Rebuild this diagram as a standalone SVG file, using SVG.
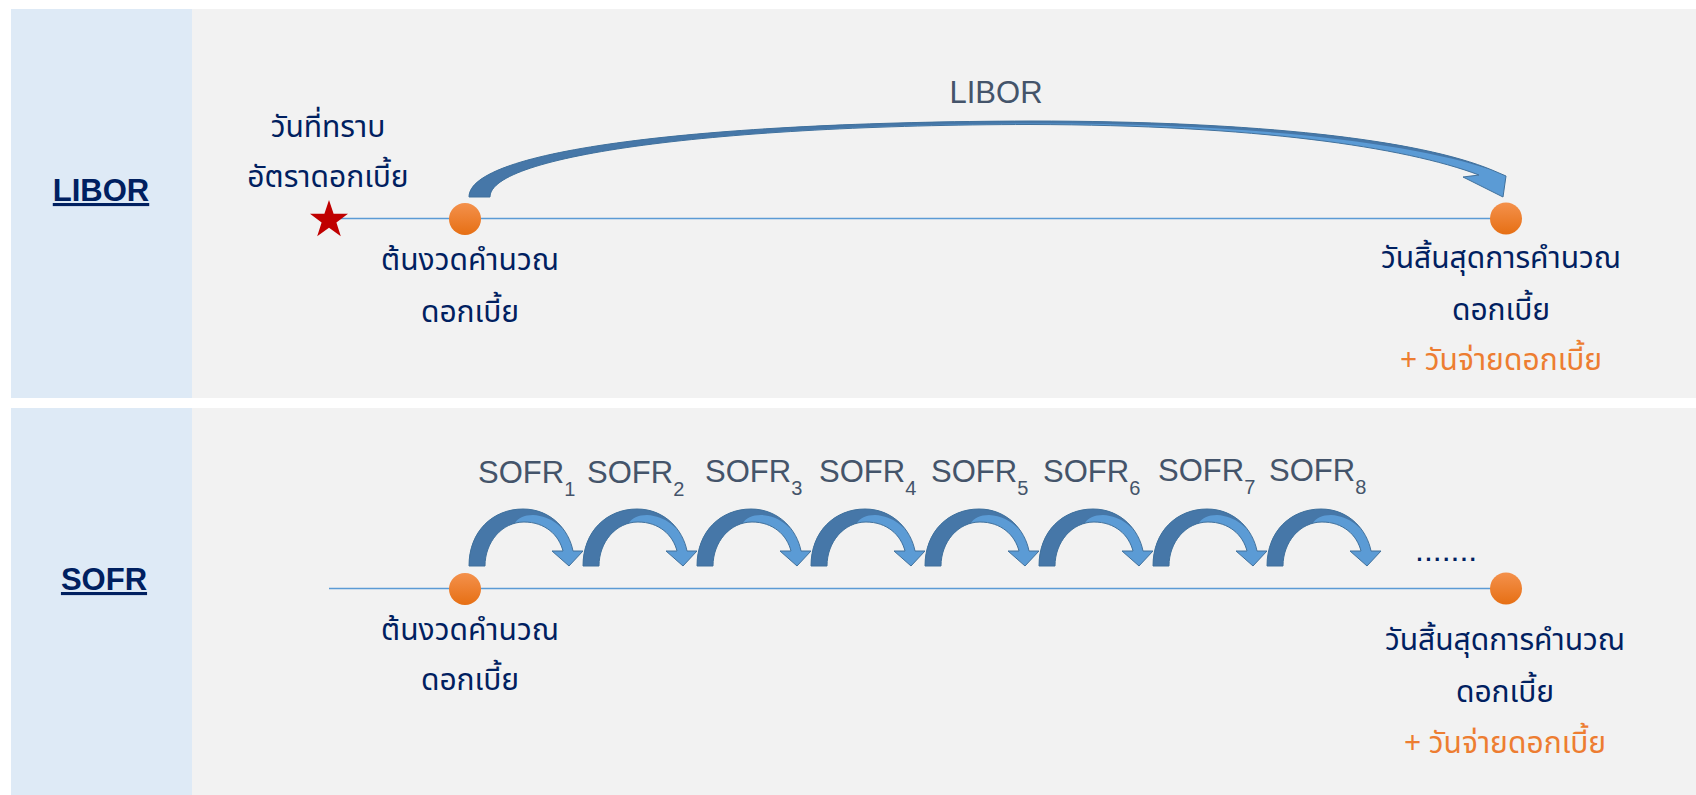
<svg xmlns="http://www.w3.org/2000/svg" xmlns:xlink="http://www.w3.org/1999/xlink" width="1696" height="795" viewBox="0 0 1696 795">
  <defs>
    <style>
      .side { fill: #DEEAF6; }
      .main { fill: #F2F2F2; }
      .rowlabel { font-family: "Liberation Sans", Arial, sans-serif; font-size: 31px; font-weight: bold; fill: #002060; text-decoration: underline; }
      .th { font-family: "Noto Sans Thai", "Tahoma", "Noto Sans", sans-serif; font-size: 30px; fill: #002060; text-anchor: middle; }
      .th-pay { fill: #ED7D31; }
      .rate { font-family: "Liberation Sans", Arial, sans-serif; font-size: 31px; fill: #44546A; }
      .sub { font-size: 20px; }
      .axis { stroke: #5B9BD5; stroke-width: 1.5; fill: none; }
      .back { fill: #4677A8; }
      .front { fill: #5B9BD5; }
      .edge { fill: none; stroke: #41719C; stroke-width: 1; stroke-linejoin: round; }
      .dots { font-family: "Liberation Sans", Arial, sans-serif; font-size: 32px; fill: #002060; }
    </style>
    <linearGradient id="dotFill" x1="0" y1="0" x2="0" y2="1">
      <stop offset="0" stop-color="#F4914C"/>
      <stop offset="1" stop-color="#E66F14"/>
    </linearGradient>
    <!-- outline of one daily hop (curved down arrow), tail at x=0 -->
    <path id="hopBand" d="M0,566 C0,531 24,509 54,509 C82,509 100,530 104,551 L114,551 L100,566 L83,551 L94,551 C90,535 76,522 55,522 C33,522 16,542 16,566 Z"/>
    <clipPath id="hopClip" clipPathUnits="userSpaceOnUse">
      <use xlink:href="#hopBand"/>
    </clipPath>
    <g id="hop">
      <use xlink:href="#hopBand" class="front"/>
      <!-- underside seen on the rising leg and along the top -->
      <path class="back" clip-path="url(#hopClip)" d="M-5,572 L-5,500 L54,500 C80,502 99,520 105,543 C95,528 83,516 64,515 C55,515 49,518 45,524 L32,572 Z"/>
      <use xlink:href="#hopBand" class="edge"/>
    </g>
  </defs>

  <!-- panels -->
  <g id="panel-libor">
    <rect class="main" x="11" y="9" width="1685" height="389"/>
    <rect class="side" x="11" y="9" width="181" height="389"/>
  </g>
  <g id="panel-sofr">
    <rect class="main" x="11" y="408" width="1685" height="387"/>
    <rect class="side" x="11" y="408" width="181" height="387"/>
  </g>

  <!-- row titles -->
  <g id="title-libor"><text class="rowlabel" x="101" y="201" text-anchor="middle">LIBOR</text></g>
  <g id="title-sofr"><text class="rowlabel" x="104" y="590" text-anchor="middle">SOFR</text></g>

  <!-- timelines and rate arrows -->
  <g id="connectors">
    <line class="axis" x1="335" y1="218.5" x2="1506" y2="218.5"/>
    <line class="axis" x1="329" y1="588.5" x2="1506" y2="588.5"/>

    <!-- term rate arrow spanning the whole period -->
    <path class="front" d="M469,197 C469,150 700,122 1030,121 C1260,121 1420,140 1492,170 L1506,176 L1503,197 L1463,177 L1479,175 C1405,147 1255,125 1030,124.5 C720,125 490,155 490,197 Z"/>
    <path class="back" d="M469,197 C469,150 700,122 1030,121 C1260,121 1420,140 1492,170 C1412,143 1255,123 1030,123.5 C720,125 490,155 490,197 Z"/>
    <path class="edge" d="M469,197 C469,150 700,122 1030,121 C1260,121 1420,140 1492,170 L1506,176 L1503,197 L1463,177 L1479,175 C1405,147 1255,125 1030,124.5 C720,125 490,155 490,197 Z"/>

    <!-- overnight rate hops -->
    <use xlink:href="#hop" x="469"/>
    <use xlink:href="#hop" x="583"/>
    <use xlink:href="#hop" x="697"/>
    <use xlink:href="#hop" x="811"/>
    <use xlink:href="#hop" x="925"/>
    <use xlink:href="#hop" x="1039"/>
    <use xlink:href="#hop" x="1153"/>
    <use xlink:href="#hop" x="1267"/>
  </g>

  <!-- LIBOR row nodes -->
  <g id="libor-fixing">
    <polygon fill="#C00000" points="329,200 333.6,213.7 348,213.8 336.4,222.4 340.8,236.2 329,227.8 317.2,236.2 321.6,222.4 310,213.8 324.4,213.7"/>
    <text class="th" x="328" y="137">วันที่ทราบ</text>
    <text class="th" x="328" y="187">อัตราดอกเบี้ย</text>
  </g>
  <g id="libor-start">
    <circle cx="465" cy="219" r="16" fill="url(#dotFill)"/>
    <text class="th" x="470" y="270">ต้นงวดคำนวณ</text>
    <text class="th" x="470" y="322">ดอกเบี้ย</text>
  </g>
  <g id="libor-end">
    <circle cx="1506" cy="218.5" r="16" fill="url(#dotFill)"/>
    <text class="th" x="1501" y="268">วันสิ้นสุดการคำนวณ</text>
    <text class="th" x="1501" y="320">ดอกเบี้ย</text>
    <text class="th th-pay" x="1501" y="370">+ วันจ่ายดอกเบี้ย</text>
  </g>
  <g id="libor-rate">
    <text class="rate" x="996" y="103" text-anchor="middle" font-size="30">LIBOR</text>
  </g>

  <!-- SOFR row nodes -->
  <g id="sofr-start">
    <circle cx="465" cy="589" r="16" fill="url(#dotFill)"/>
    <text class="th" x="470" y="640">ต้นงวดคำนวณ</text>
    <text class="th" x="470" y="690">ดอกเบี้ย</text>
  </g>
  <g id="sofr-end">
    <circle cx="1506" cy="588.5" r="16" fill="url(#dotFill)"/>
    <text class="th" x="1505" y="650">วันสิ้นสุดการคำนวณ</text>
    <text class="th" x="1505" y="702">ดอกเบี้ย</text>
    <text class="th th-pay" x="1505" y="753">+ วันจ่ายดอกเบี้ย</text>
  </g>
  <g id="sofr-rates">
    <text class="rate" x="478" y="483">SOFR<tspan class="sub" dy="13">1</tspan></text>
    <text class="rate" x="587" y="483">SOFR<tspan class="sub" dy="13">2</tspan></text>
    <text class="rate" x="705" y="482">SOFR<tspan class="sub" dy="13">3</tspan></text>
    <text class="rate" x="819" y="482">SOFR<tspan class="sub" dy="13">4</tspan></text>
    <text class="rate" x="931" y="482">SOFR<tspan class="sub" dy="13">5</tspan></text>
    <text class="rate" x="1043" y="482">SOFR<tspan class="sub" dy="13">6</tspan></text>
    <text class="rate" x="1158" y="481">SOFR<tspan class="sub" dy="13">7</tspan></text>
    <text class="rate" x="1269" y="481">SOFR<tspan class="sub" dy="13">8</tspan></text>
  </g>
  <g id="sofr-more">
    <text class="dots" x="1415" y="561">.......</text>
  </g>
</svg>
